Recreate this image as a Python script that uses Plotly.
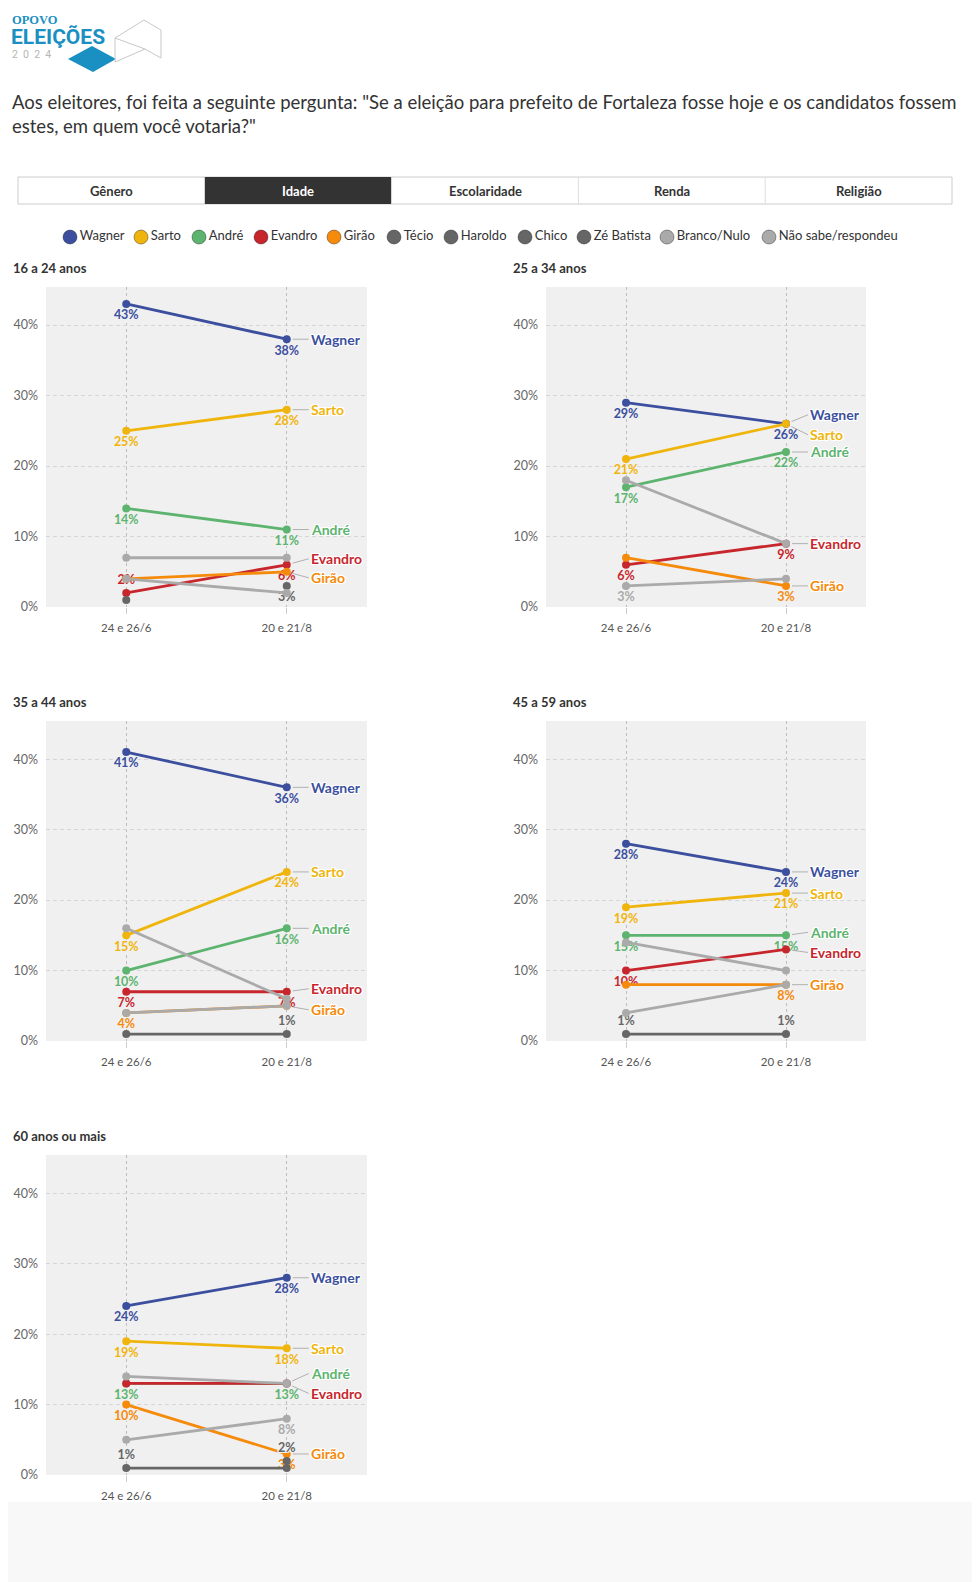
import plotly.graph_objects as go

# ---------------- data ----------------
GROUPS = ["16 a 24 anos", "25 a 34 anos", "35 a 44 anos", "45 a 59 anos", "60 anos ou mais"]
DATES = ["24 e 26/6", "20 e 21/8"]
CANDIDATES = ["Wagner", "Sarto", "André", "Evandro", "Girão", "Técio", "Haroldo",
              "Chico", "Zé Batista", "Branco/Nulo", "Não sabe/respondeu"]
COLORS = ["#3b4f9e", "#f0b50c", "#5db46f", "#c8262d", "#f58a0b", "#666666", "#666666",
          "#666666", "#666666", "#aaaaaa", "#aaaaaa"]

WAGNER = [[43, 38], [29, 26], [41, 36], [28, 24], [24, 28]]
SARTO = [[25, 28], [21, 26], [15, 24], [19, 21], [19, 18]]
ANDRE = [[14, 11], [17, 22], [10, 16], [15, 15], [13, 13]]
EVANDRO = [[2, 6], [6, 9], [7, 7], [10, 13], [13, 13]]
GIRAO = [[4, 5], [7, 3], [4, 5], [8, 8], [10, 3]]
TECIO = [[1, None], [None, None], [1, 1], [1, 1], [1, 1]]
HAROLDO = [[None, 3], [None, None], [None, None], [None, None], [None, 2]]
CHICO = [[None, None]] * 5
ZE_BATISTA = [[None, None]] * 5
BRANCO_NULO = [[4, 2], [3, 4], [4, 5], [4, 8], [5, 8]]
NAO_SABE = [[7, 7], [18, 9], [16, 6], [14, 10], [14, 13]]
SERIES = [WAGNER, SARTO, ANDRE, EVANDRO, GIRAO, TECIO, HAROLDO, CHICO, ZE_BATISTA, BRANCO_NULO, NAO_SABE]

# value labels shown: per panel, candidate -> (first, second) ; 'b' below, 't' above
VALUE_LABELS = [
    {"Wagner": "bb", "Sarto": "bb", "André": "bb", "Evandro": "tb", "Haroldo": "-b"},
    {"Wagner": "bb", "Sarto": "b-", "André": "bb", "Evandro": "bb", "Girão": "-b", "Branco/Nulo": "b-"},
    {"Wagner": "bb", "Sarto": "bb", "André": "bb", "Evandro": "bb", "Girão": "b-", "Técio": "-t"},
    {"Wagner": "bb", "Sarto": "bb", "André": "bb", "Evandro": "b-", "Girão": "-b", "Técio": "tt"},
    {"Wagner": "bb", "Sarto": "bb", "André": "bb", "Girão": "bb", "Técio": "t-", "Haroldo": "-t",
     "Branco/Nulo": "-b"},
]
# name labels at the end of lines: candidate -> vertical pixel nudge
NAME_LABELS = [
    {"Wagner": 0, "Sarto": 0, "André": 0, "Evandro": -6, "Girão": 6},
    {"Wagner": -9, "Sarto": 11, "André": 0, "Evandro": 0, "Girão": 0},
    {"Wagner": 0, "Sarto": 0, "André": 0, "Evandro": -3, "Girão": 4},
    {"Wagner": 0, "Sarto": 0, "André": -3, "Evandro": 3, "Girão": 0},
    {"Wagner": 0, "Sarto": 0, "André": -10, "Evandro": 10, "Girão": 0},
]
TABS = ["Gênero", "Idade", "Escolaridade", "Renda", "Religião"]
ACTIVE_TAB = "Idade"
TITLE = ('Aos eleitores, foi feita a seguinte pergunta: "Se a eleição para prefeito de Fortaleza fosse hoje e os candidatos fossem'
         '<br>estes, em quem você votaria?"')
LEGEND_X = [70, 141, 199, 261, 334, 394, 451, 525, 584, 667, 769]

# ---------------- layout helpers ----------------
OFF = 8                      # default page margin of the html body
FW, FH = 964, 1582
FONT = "Lato"
BG = "#f0f0f0"


def fx(px):
    return (px - OFF) / FW


def fy(py):
    py = py * 1.0045 + 1
    return 1 - (py - OFF) / FH


PANELS = [(46, 367, 286, 606), (546, 866, 286, 606), (46, 367, 720, 1040),
          (546, 866, 720, 1040), (46, 367, 1154, 1474)]
YMAX = 45.4

fig = go.Figure()
layout = dict(
    width=FW, height=FH, margin=dict(l=0, r=0, t=0, b=0),
    paper_bgcolor="white", plot_bgcolor="rgba(0,0,0,0)", showlegend=False,
    font=dict(family=FONT, color="#333"),
    shapes=[], annotations=[],
)

dirs = [(-1, -1), (1, -1), (-1, 1), (1, 1), (0, 1), (0, -1), (1, 0), (-1, 0)]
halo_bg = ", ".join(f"{a}px {b}px 0 {BG}" for a, b in dirs)
halo_w = ", ".join(f"{a}px {b}px 0 #ffffff" for a, b in dirs)

for p, (x0, x1, y0, y1) in enumerate(PANELS):
    sfx = "" if p == 0 else str(p + 1)
    xa, ya = "x" + sfx, "y" + sfx
    layout["xaxis" + sfx] = dict(
        domain=[fx(x0), fx(x1)], anchor=ya, type="category", range=[-0.5, 1.5],
        showgrid=True, gridcolor="#bdbdbd", griddash="3px,3px", gridwidth=1,
        ticks="outside", ticklen=6, tickcolor="#cccccc", ticklabelstandoff=4,
        tickfont=dict(size=11.5, color="#555"), showline=False, zeroline=False,
        fixedrange=True,
    )
    layout["yaxis" + sfx] = dict(
        domain=[fy(y1), fy(y0)], anchor=xa, range=[0, YMAX],
        tickvals=[0, 10, 20, 30, 40], ticktext=["0%", "10%", "20%", "30%", "40%"],
        showgrid=True, gridcolor="#d6d6d6", griddash="4px,3px", gridwidth=1,
        zeroline=False, ticks="", ticklen=0, ticklabelstandoff=7,
        tickfont=dict(size=12.5, color="#666"), fixedrange=True,
    )
    # panel background
    layout["shapes"].append(dict(type="rect", xref=xa + " domain", yref=ya + " domain",
                                 x0=0, x1=1, y0=0, y1=1, fillcolor=BG, line=dict(width=0),
                                 layer="below"))
    # panel title
    layout["annotations"].append(dict(
        xref="paper", yref="paper", x=fx(x0 - 35), y=fy(y0 - 19), xanchor="left", yanchor="middle",
        text=f"<b>{GROUPS[p]}</b>", showarrow=False, font=dict(size=13, color="#333", family=FONT)))

    for name, color, series in zip(CANDIDATES, COLORS, SERIES):
        vals = series[p]
        if all(v is None for v in vals):
            continue
        flags = VALUE_LABELS[p].get(name, "--")
        texts, poss = [], []
        for v, f in zip(vals, flags):
            if v is None or f == "-":
                texts.append("")
                poss.append("bottom center")
            else:
                texts.append(f"<b>{v}%</b>")
                poss.append("bottom center" if f == "b" else "top center")
        fig.add_trace(go.Scatter(
            x=DATES, y=vals, xaxis=xa, yaxis=ya, mode="lines+markers+text",
            line=dict(color=color, width=2.8), marker=dict(color=color, size=8),
            text=texts, textposition=poss, cliponaxis=False,
            textfont=dict(color=color, size=12.5, family=FONT, shadow=halo_bg),
            hoverinfo="skip", connectgaps=False,
        ))

    for name, dy in NAME_LABELS[p].items():
        idx = CANDIDATES.index(name)
        v = SERIES[idx][p][1]
        layout["annotations"].append(dict(
            xref=xa, yref=ya, x=DATES[1], y=v, ax=22, ay=dy, axref="pixel", ayref="pixel",
            xanchor="left", yanchor="middle", showarrow=True, arrowhead=0, arrowwidth=1,
            arrowcolor="#b0b0b0", standoff=6, text=f"<b>{name}</b>",
            font=dict(size=14, color=COLORS[idx], family=FONT, shadow=halo_w)))

# ---------------- legend (own hidden axis) ----------------
layout["xaxis6"] = dict(domain=[0, 1], range=[OFF, OFF + FW], visible=False, fixedrange=True, anchor="y6")
layout["yaxis6"] = dict(domain=[fy(248), fy(224)], range=[0, 1], visible=False, fixedrange=True, anchor="x6")
fig.add_trace(go.Scatter(
    x=LEGEND_X, y=[0.5] * len(CANDIDATES), xaxis="x6", yaxis="y6", mode="markers+text",
    text=CANDIDATES, textposition="middle right", cliponaxis=False,
    marker=dict(color=COLORS, size=14, line=dict(color="rgba(0,0,0,0.35)", width=1)),
    textfont=dict(size=13, color="#333", family=FONT), hoverinfo="skip"))

# ---------------- title ----------------
layout["annotations"].append(dict(
    xref="paper", yref="paper", x=fx(10), y=fy(113), xanchor="left", yanchor="middle", align="left",
    text=TITLE, showarrow=False, font=dict(size=18.5, color="#333", family=FONT)))

# ---------------- tabs ----------------
tx0, tx1, ty0, ty1 = 18, 952, 176, 203
tw = (tx1 - tx0) / len(TABS)
layout["shapes"].append(dict(type="rect", xref="paper", yref="paper", x0=fx(tx0), x1=fx(tx1),
                             y0=fy(ty1), y1=fy(ty0), line=dict(color="#cccccc", width=1), fillcolor="white"))
for i, t in enumerate(TABS):
    a, b = tx0 + i * tw, tx0 + (i + 1) * tw
    active = t == ACTIVE_TAB
    if active:
        layout["shapes"].append(dict(type="rect", xref="paper", yref="paper", x0=fx(a), x1=fx(b),
                                     y0=fy(ty1), y1=fy(ty0), line=dict(width=0), fillcolor="#333333"))
    elif i > 0:
        layout["shapes"].append(dict(type="line", xref="paper", yref="paper", x0=fx(a), x1=fx(a),
                                     y0=fy(ty1), y1=fy(ty0), line=dict(color="#dddddd", width=1)))
    layout["annotations"].append(dict(
        xref="paper", yref="paper", x=fx((a + b) / 2), y=fy((ty0 + ty1) / 2), showarrow=False,
        xanchor="center", yanchor="middle",
        text=f"<b>{t}</b>", font=dict(size=13, color="white" if active else "#333", family=FONT)))

# ---------------- logo ----------------
BLUE = "#1a8fc2"


def path(pts, close=True):
    s = "M " + " L ".join(f"{fx(x):.5f},{fy(y):.5f}" for x, y in pts)
    return s + (" Z" if close else "")


layout["shapes"].append(dict(type="path", xref="paper", yref="paper",
                             path=path([(68, 58), (92, 45), (116, 58), (93, 71)]),
                             fillcolor=BLUE, line=dict(width=0)))
layout["shapes"].append(dict(type="path", xref="paper", yref="paper",
                             path=path([(115, 37), (144, 19), (161, 29), (161, 57), (145, 48), (115, 37)], close=False),
                             fillcolor="rgba(0,0,0,0)", line=dict(color="#c8c8c8", width=1)))
layout["shapes"].append(dict(type="path", xref="paper", yref="paper",
                             path=path([(145, 48), (115, 61), (115, 37)], close=False),
                             fillcolor="rgba(0,0,0,0)", line=dict(color="#c8c8c8", width=1)))
layout["annotations"] += [
    dict(xref="paper", yref="paper", x=fx(10), y=fy(18.5), xanchor="left", yanchor="middle", showarrow=False,
         text="<b>OPOVO</b>", font=dict(size=12.5, color=BLUE, family="Liberation Serif")),
    dict(xref="paper", yref="paper", x=fx(9), y=fy(36), xanchor="left", yanchor="middle", showarrow=False,
         text="<b>ELEIÇÕES</b>", font=dict(size=21, color=BLUE, family="Roboto")),
    dict(xref="paper", yref="paper", x=fx(10), y=fy(53), xanchor="left", yanchor="middle", showarrow=False,
         text="2\u00a0 0\u00a0 2\u00a0 4", font=dict(size=10.5, color="#b5b5b5", family="Roboto")),
]

# bottom page band
layout["shapes"].append(dict(type="rect", xref="paper", yref="paper", x0=0, x1=1, y0=0, y1=fy(1501),
                             fillcolor="#f8f8f8", line=dict(width=0), layer="below"))

fig.update_layout(**layout)
fig.write_html("out.html", config={"displayModeBar": False})
